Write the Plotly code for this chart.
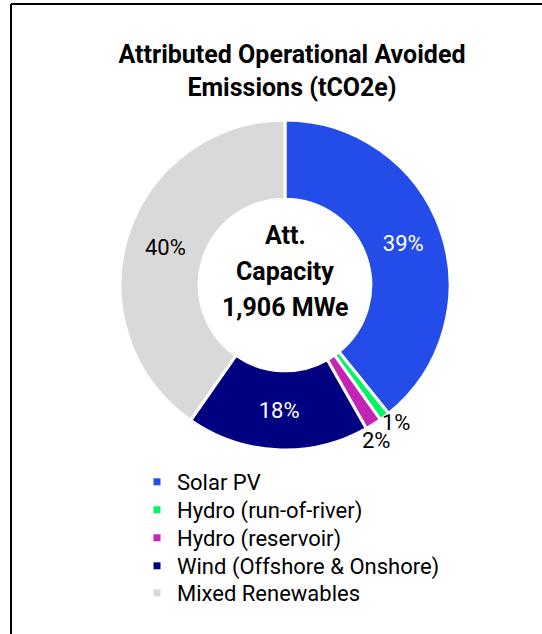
import math
import plotly.graph_objects as go

categories = ["Solar PV", "Hydro (run-of-river)", "Hydro (reservoir)",
              "Wind (Offshore & Onshore)", "Mixed Renewables"]
shares = [39.2, 1.0, 1.6, 17.9, 40.3]
colors = ["#244CE8", "#00F564", "#C424B4", "#000080", "#D9D9D9"]
label_colors = ["white", "black", "black", "white", "black"]
inside_label = [True, False, False, True, True]
title_text = "Attributed Operational Avoided<br>Emissions (tCO2e)"
center_lines = ["Att.", "Capacity", "1,906 MWe"]

W, H = 542, 634
FONT = "Roboto, Arial, sans-serif"

# pie placement in pixels
CX, CY, R = 285, 285, 165

total = sum(shares)
pct_text = [f"{round(v / total * 100):d}%" for v in shares]
templates = [f"{t}" if ins else "" for t, ins in zip(pct_text, inside_label)]

fig = go.Figure()
fig.add_trace(go.Pie(
    labels=categories, values=shares, sort=False, direction="clockwise",
    rotation=0, hole=0.52,
    marker=dict(colors=colors, line=dict(color="white", width=3)),
    texttemplate=templates,
    textposition="inside",
    textfont=dict(family=FONT, size=22, color=label_colors),
    insidetextorientation="horizontal",
    showlegend=False,
    domain=dict(x=[(CX - R) / W, (CX + R) / W], y=[(H - CY - R) / H, (H - CY + R) / H]),
    hoverinfo="label+percent",
))

# outside labels for the thin slices, placed at the slice's mid-angle on the rim
cum = 0.0
offsets = {1: dict(xanchor="left", yanchor="middle", xshift=-4, yshift=-6),
           2: dict(xanchor="center", yanchor="top", xshift=3, yshift=-2)}
for i, v in enumerate(shares):
    mid = (cum + v / 2) / total * 2 * math.pi
    cum += v
    if inside_label[i]:
        continue
    px = CX + R * math.sin(mid)
    py = CY - R * math.cos(mid)
    fig.add_annotation(text=pct_text[i], x=px / W, y=1 - py / H, xref="paper", yref="paper",
                       showarrow=False, font=dict(family=FONT, size=22, color="black"),
                       **offsets[i])

center_y = [235, 271, 307]
for txt, yy in zip(center_lines, center_y):
    fig.add_annotation(text=f"<b>{txt}</b>", x=CX / W, y=1 - yy / H, xref="paper", yref="paper",
                       showarrow=False, font=dict(family=FONT, size=25, color="black"))

legend_y = [482, 510, 538, 566, 593]
legend_layouts = {}
for i, (name, col) in enumerate(zip(categories, colors)):
    key = "legend" if i == 0 else f"legend{i + 1}"
    fig.add_trace(go.Scatter(
        x=[None], y=[None], mode="markers", name=name, legend=key,
        marker=dict(symbol="square", size=7, color=col),
    ))
    legend_layouts[key] = dict(x=137 / W, xanchor="left", y=1 - legend_y[i] / H, yanchor="middle",
                               font=dict(family=FONT, size=22, color="black"),
                               bgcolor="rgba(0,0,0,0)", borderwidth=0, itemwidth=30)

fig.update_layout(
    width=W, height=H,
    margin=dict(l=0, r=0, t=0, b=0),
    paper_bgcolor="white", plot_bgcolor="white",
    title=dict(text=f"<b>{title_text}</b>", x=292 / W, xanchor="center",
               y=1 - 63 / H, yanchor="top", yref="container",
               font=dict(family=FONT, size=25, color="black")),
    xaxis=dict(visible=False), yaxis=dict(visible=False),
    shapes=[
        dict(type="line", xref="paper", yref="paper", x0=11 / W, x1=1.0, y0=1 - 4 / H, y1=1 - 4 / H,
             line=dict(color="black", width=2)),
        dict(type="line", xref="paper", yref="paper", x0=11 / W, x1=11 / W, y0=0, y1=1 - 4 / H,
             line=dict(color="black", width=2)),
    ],
    **legend_layouts,
)

fig.write_html("out.html", config={"displayModeBar": False},
               post_script="document.body.style.margin='0px';")
